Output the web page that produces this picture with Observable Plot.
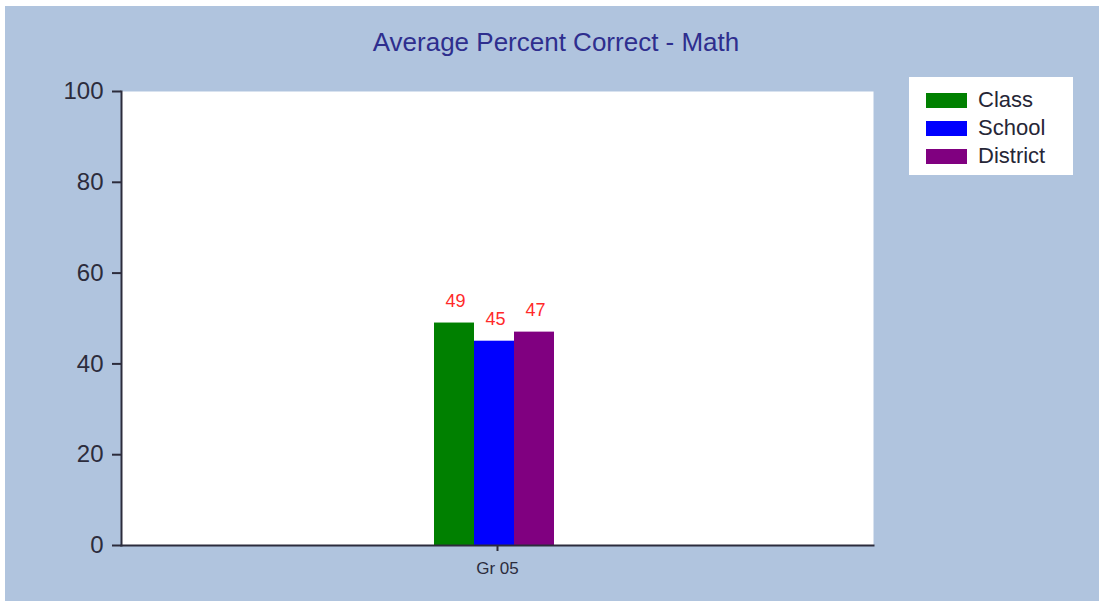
<!DOCTYPE html>
<html>
<head>
<meta charset="utf-8">
<script src="https://cdn.jsdelivr.net/npm/d3@7"></script>
<script src="https://cdn.jsdelivr.net/npm/@observablehq/plot@0.6"></script>
<style>
  html, body { margin: 0; padding: 0; background: #ffffff; }
  body { width: 1099px; height: 603px; position: relative; overflow: hidden; font-family: Arial, "Liberation Sans", sans-serif; }
  #wrap { position: absolute; left: 5px; top: 6px; width: 1094px; height: 595px; background: #B0C4DE; }
  #title { position: absolute; left: 0; top: 21px; width: 1102px; text-align: center; color: #2E2E8E; font-size: 26px; line-height: 30px; }
  #chart { position: absolute; left: 0; top: 0; }
  #legend { position: absolute; left: 904px; top: 71px; width: 164px; height: 98px; background: #ffffff; }
  .row { position: absolute; left: 17px; height: 28px; display: flex; align-items: center; }
  .sw { width: 41px; height: 15px; margin-right: 11px; }
  .lab { font-size: 22px; color: #262636; }
</style>
</head>
<body>
<div id="wrap">
  <div id="title"></div>
  <div id="chart"></div>
  <div id="legend"></div>
</div>
<script>
// ---- data ----
const title = "Average Percent Correct - Math";
const groups = ["Gr 05"];
const series = ["Class", "School", "District"];
const colors = ["#008000", "#0000FF", "#800080"];
const values = [49, 45, 47];
const yTicks = [0, 20, 40, 60, 80, 100];

const data = series.map((s, i) => ({group: groups[0], series: s, value: values[i]}));

document.getElementById("title").textContent = title;

const axisColor = "#2c2c3c";

const chart = Plot.plot({
  width: 1094,
  height: 595,
  marginLeft: 116,
  marginRight: 226,
  marginTop: 85,
  marginBottom: 56,
  style: { background: "transparent", fontFamily: "Arial, 'Liberation Sans', sans-serif", overflow: "visible" },
  fx: { domain: groups, padding: 0 },
  x: { domain: series, paddingInner: 0, paddingOuter: 7.9, align: 0.495, axis: null },
  y: { domain: [0, 100], ticks: yTicks },
  color: { domain: series, range: colors },
  marks: [
    Plot.frame({ fill: "#ffffff", stroke: null }),
    Plot.barY(data, { fx: "group", x: "series", y: "value", fill: "series", inset: 0 }),
    Plot.text(data, { fx: "group", x: "series", y: "value", text: d => String(d.value), dy: -22, dx: 1, fill: "#FF2A2A", fontSize: 18 }),
    Plot.axisY({ ticks: yTicks, tickSize: 9, tickPadding: 9, fontSize: 24, stroke: axisColor, strokeWidth: 2, color: axisColor, label: null }),
    Plot.axisFx({ anchor: "bottom", tickSize: 6, tickPadding: 10, fontSize: 17, stroke: axisColor, strokeWidth: 2, color: axisColor, label: null }),
    Plot.frame({ anchor: "left", stroke: axisColor, strokeWidth: 2 }),
    Plot.frame({ anchor: "bottom", stroke: axisColor, strokeWidth: 2 })
  ]
});
document.getElementById("chart").appendChild(chart);

// legend
const legend = document.getElementById("legend");
series.forEach((s, i) => {
  const row = document.createElement("div");
  row.className = "row";
  row.style.top = (9 + i * 28) + "px";
  const sw = document.createElement("div");
  sw.className = "sw";
  sw.style.background = colors[i];
  const lab = document.createElement("span");
  lab.className = "lab";
  lab.textContent = s;
  row.appendChild(sw);
  row.appendChild(lab);
  legend.appendChild(row);
});
</script>
</body>
</html>
